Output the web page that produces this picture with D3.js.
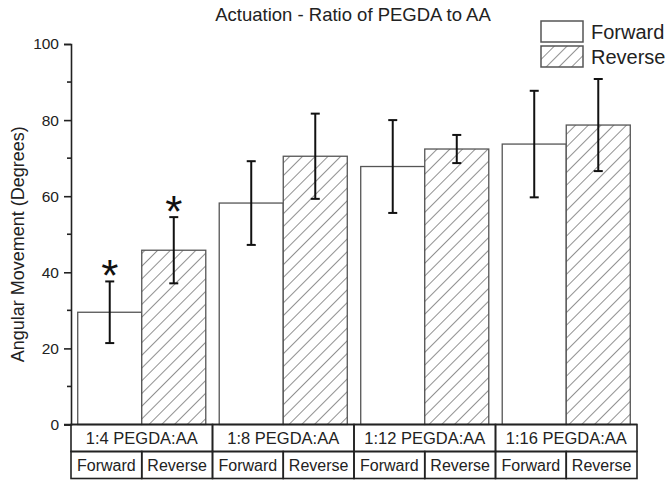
<!DOCTYPE html>
<html>
<head>
<meta charset="utf-8">
<script src="https://cdn.jsdelivr.net/npm/d3@7"></script>
<style>
  html, body { margin: 0; padding: 0; background: #fff; }
  svg { display: block; font-family: 'Liberation Sans', Arial, sans-serif; }
</style>
</head>
<body>
<div id="chart"></div>
<script>
const groups = ['1:4 PEGDA:AA', '1:8 PEGDA:AA', '1:12 PEGDA:AA', '1:16 PEGDA:AA']
const series = ['Forward', 'Reverse']
const forwardMean = [29.5, 58.2, 67.8, 73.7]
const forwardErr = [8.1, 11.0, 12.2, 14.0]
const reverseMean = [45.8, 70.5, 72.4, 78.7]
const reverseErr = [8.7, 11.2, 3.7, 12.1]
const significant = ['1:4 PEGDA:AA']
const yTicks = [0, 20, 40, 60, 80, 100]

const width = 669
const height = 484
const margin = { left: 71, right: 32, top: 44, bottom: 59 }

const rows = []
groups.forEach((g, i) => {
  rows.push({ group: g, series: 'Forward', mean: forwardMean[i], err: forwardErr[i] })
  rows.push({ group: g, series: 'Reverse', mean: reverseMean[i], err: reverseErr[i] })
})

const svg = d3.select('#chart')
  .append('svg')
  .attr('width', width)
  .attr('height', height)

// Hatch pattern for reverse bars
const defs = svg.append('defs')
const hatch = defs.append('pattern')
  .attr('id', 'hatch')
  .attr('patternUnits', 'userSpaceOnUse')
  .attr('width', 9)
  .attr('height', 9)
  .attr('patternTransform', 'rotate(45)')
hatch.append('rect').attr('width', 9).attr('height', 9).attr('fill', '#fff')
hatch.append('line')
  .attr('x1', 0).attr('y1', 0).attr('x2', 0).attr('y2', 9)
  .attr('stroke', '#555')
  .attr('stroke-width', 1.3)

const x0 = d3.scaleBand()
  .domain(groups)
  .range([margin.left, width - margin.right])
  .padding(0)

const x1 = d3.scaleBand()
  .domain(series)
  .range([0, x0.bandwidth()])
  .paddingInner(0)
  .paddingOuter(0.105)

const y = d3.scaleLinear()
  .domain([0, 100])
  .range([height - margin.bottom - 0.5, margin.top])

const fillFor = s => s === 'Forward' ? '#fff' : 'url(#hatch)'

// Bars
svg.append('g')
  .selectAll('rect')
  .data(rows)
  .join('rect')
  .attr('x', d => x0(d.group) + x1(d.series))
  .attr('y', d => y(d.mean))
  .attr('width', x1.bandwidth())
  .attr('height', d => y(0) - y(d.mean))
  .attr('fill', d => fillFor(d.series))
  .attr('stroke', '#555')
  .attr('stroke-width', 1.3)

// Error bars
const cap = 4.5
const errG = svg.append('g')
  .attr('stroke', '#111')
  .attr('stroke-width', 2)
  .selectAll('g')
  .data(rows)
  .join('g')
  .attr('transform', d => `translate(${x0(d.group) + x1(d.series) + x1.bandwidth() / 2},0)`)
errG.append('line')
  .attr('y1', d => y(d.mean - d.err))
  .attr('y2', d => y(d.mean + d.err))
errG.append('line')
  .attr('x1', -cap).attr('x2', cap)
  .attr('y1', d => y(d.mean + d.err))
  .attr('y2', d => y(d.mean + d.err))
errG.append('line')
  .attr('x1', -cap).attr('x2', cap)
  .attr('y1', d => y(d.mean - d.err))
  .attr('y2', d => y(d.mean - d.err))

// Significance asterisks
svg.append('g')
  .selectAll('text')
  .data(rows.filter(d => significant.includes(d.group)))
  .join('text')
  .attr('x', d => x0(d.group) + x1(d.series) + x1.bandwidth() / 2)
  .attr('y', d => y(d.mean + d.err) + 10)
  .attr('text-anchor', 'middle')
  .attr('font-size', '44px')
  .attr('fill', '#111')
  .text('*')

// Y axis
const yAxis = svg.append('g')
  .attr('transform', `translate(${margin.left},0)`)
  .call(d3.axisLeft(y).tickValues(yTicks).tickSize(7).tickPadding(5))
yAxis.select('.domain').attr('stroke', '#222').attr('stroke-width', 1.6)
yAxis.selectAll('.tick line').attr('stroke', '#222').attr('stroke-width', 1.6)
yAxis.selectAll('.tick text').attr('font-size', '15.5px').attr('fill', '#222')
  .attr('font-family', "'Liberation Sans', Arial, sans-serif")

// Minor ticks
svg.append('g')
  .selectAll('line')
  .data(d3.range(10, 100, 20))
  .join('line')
  .attr('x1', margin.left - 4)
  .attr('x2', margin.left)
  .attr('y1', d => y(d))
  .attr('y2', d => y(d))
  .attr('stroke', '#222')
  .attr('stroke-width', 1.6)

// Baseline
svg.append('line')
  .attr('x1', margin.left - 7)
  .attr('x2', width - margin.right)
  .attr('y1', y(0))
  .attr('y2', y(0))
  .attr('stroke', '#222')
  .attr('stroke-width', 1.6)

// Category table under the axis
const rowH = 27
const tableTop = y(0)
const table = svg.append('g')
  .attr('stroke', '#222')
  .attr('stroke-width', 1.6)

table.selectAll('rect.grp')
  .data(groups)
  .join('rect')
  .attr('class', 'grp')
  .attr('x', d => x0(d))
  .attr('y', tableTop)
  .attr('width', x0.bandwidth())
  .attr('height', rowH)
  .attr('fill', 'none')

const cells = []
groups.forEach(g => series.forEach(s => cells.push({ group: g, series: s })))

table.selectAll('rect.cell')
  .data(cells)
  .join('rect')
  .attr('class', 'cell')
  .attr('x', (d, i) => x0(d.group) + (i % 2) * x0.bandwidth() / 2)
  .attr('y', tableTop + rowH)
  .attr('width', x0.bandwidth() / 2)
  .attr('height', rowH)
  .attr('fill', 'none')

svg.append('g')
  .selectAll('text')
  .data(groups)
  .join('text')
  .attr('x', d => x0(d) + x0.bandwidth() / 2)
  .attr('y', tableTop + rowH / 2 + 6)
  .attr('text-anchor', 'middle')
  .attr('font-size', '16.5px')
  .attr('fill', '#222')
  .text(d => d)

svg.append('g')
  .selectAll('text')
  .data(cells)
  .join('text')
  .attr('x', (d, i) => x0(d.group) + (i % 2) * x0.bandwidth() / 2 + x0.bandwidth() / 4)
  .attr('y', tableTop + rowH * 1.5 + 6)
  .attr('text-anchor', 'middle')
  .attr('font-size', '16px')
  .attr('fill', '#222')
  .text(d => d.series)

// Y label
svg.append('text')
  .attr('transform', `translate(24,${(y(0) + y(100)) / 2 + 10}) rotate(-90)`)
  .attr('text-anchor', 'middle')
  .attr('font-size', '18px')
  .attr('fill', '#222')
  .text('Angular Movement (Degrees)')

// Title
svg.append('text')
  .attr('x', 353)
  .attr('y', 21)
  .attr('text-anchor', 'middle')
  .attr('font-size', '18.5px')
  .attr('fill', '#222')
  .text('Actuation - Ratio of PEGDA to AA')

// Legend
const legend = svg.append('g')
  .attr('transform', 'translate(541,21)')
  .selectAll('g')
  .data(series)
  .join('g')
  .attr('transform', (d, i) => `translate(0,${i * 25})`)
legend.append('rect')
  .attr('width', 42)
  .attr('height', 21)
  .attr('fill', d => fillFor(d))
  .attr('stroke', '#555')
  .attr('stroke-width', 1.5)
legend.append('text')
  .attr('x', 50)
  .attr('y', 18)
  .attr('font-size', '20px')
  .attr('fill', '#222')
  .text(d => d)
</script>
</body>
</html>
